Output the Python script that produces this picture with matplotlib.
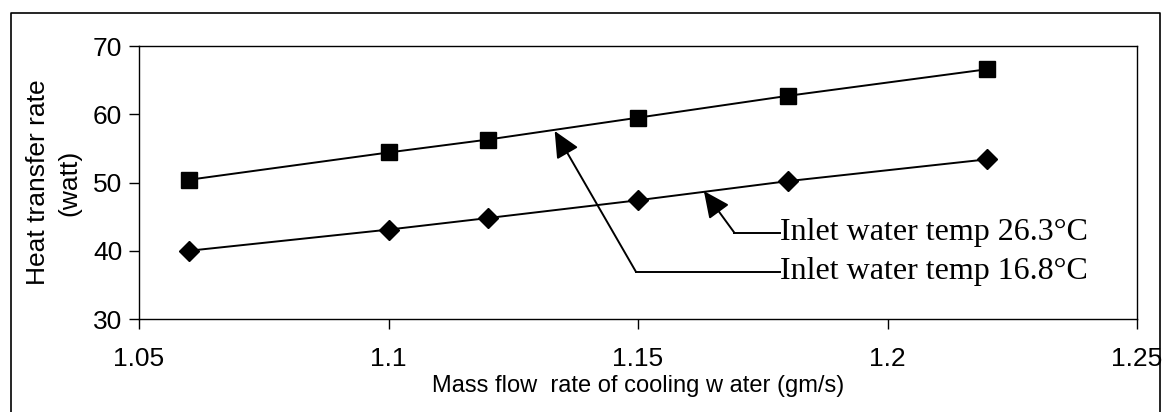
import matplotlib
matplotlib.use("Agg")
import matplotlib.pyplot as plt
from matplotlib.lines import Line2D

# data
flow = [1.06, 1.10, 1.12, 1.15, 1.18, 1.22]
q_16_8 = [50.4, 54.4, 56.3, 59.5, 62.7, 66.6]
q_26_3 = [40.0, 43.1, 44.8, 47.4, 50.2, 53.4]
x_ticks = [1.05, 1.1, 1.15, 1.2, 1.25]
x_tick_labels = ["1.05", "1.1", "1.15", "1.2", "1.25"]
y_ticks = [30, 40, 50, 60, 70]
labels = ["Inlet water temp 26.3\u00b0C", "Inlet water temp 16.8\u00b0C"]

sans = ["Liberation Sans", "DejaVu Sans"]
serif = ["Liberation Serif", "DejaVu Serif"]

fig = plt.figure(figsize=(11.63, 4.12), dpi=100)
ax = fig.add_axes([0.1195, 0.2257, 0.8582, 0.6626])

ax.plot(flow, q_16_8, color="black", lw=1.4, marker="s", ms=11)
ax.plot(flow, q_26_3, color="black", lw=1.4, marker="D", ms=10)

ax.set_xlim(1.05, 1.25)
ax.set_ylim(30, 70)
ax.set_xticks(x_ticks)
ax.set_xticklabels(x_tick_labels)
ax.set_yticks(y_ticks)
ax.tick_params(direction="out", length=7, width=1, labelsize=19, pad=5)
for lab in ax.get_xticklabels() + ax.get_yticklabels():
    lab.set_family(sans)
ax.tick_params(axis="x", pad=13)

ax.set_xlabel("Mass flow  rate of cooling w ater (gm/s)", family=sans, fontsize=17, labelpad=3)
ax.set_ylabel("Heat transfer rate\n(watt)", family=sans, fontsize=19, labelpad=8, linespacing=1.4)

for s in ax.spines.values():
    s.set_linewidth(1)

# annotations with elbow leaders
arrow = dict(arrowstyle="-|>,head_length=0.9,head_width=0.42", color="black",
             lw=1.4, mutation_scale=18, shrinkA=0, shrinkB=0)
# 26.3 C -> lower series
ax.plot([1.1693, 1.1785], [42.65, 42.65], color="black", lw=1.4)
ax.annotate("", xy=(1.1632, 48.75), xytext=(1.1693, 42.65), arrowprops=arrow)
ax.text(1.1785, 42.65, labels[0], family=serif, fontsize=23, va="center", ha="left")
# 16.8 C -> upper series
ax.plot([1.1496, 1.1785], [36.9, 36.9], color="black", lw=1.4)
ax.annotate("", xy=(1.1333, 57.55), xytext=(1.1496, 36.9), arrowprops=arrow)
ax.text(1.1785, 36.9, labels[1], family=serif, fontsize=23, va="center", ha="left")

# outer frame
x0, x1, yt = 11 / 1163, 1160 / 1163, 1 - 13 / 412
fig.add_artist(Line2D([x0, x0, x1, x1], [0, yt, yt, 0], color="black", lw=1.2))

fig.savefig("out.png", dpi=100)
